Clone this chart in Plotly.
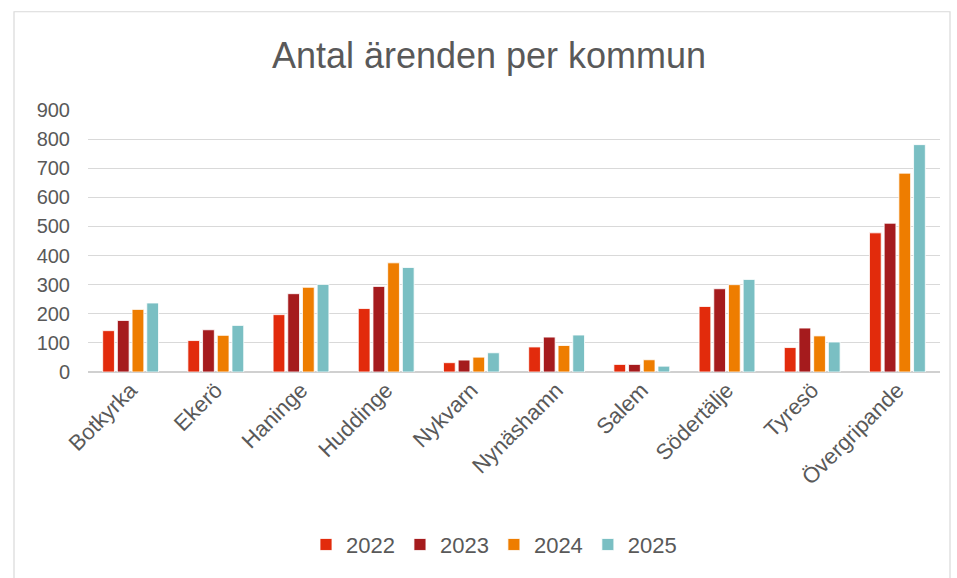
import plotly.graph_objects as go

categories = ["Botkyrka", "Ekerö", "Haninge", "Huddinge", "Nykvarn", "Nynäshamn",
              "Salem", "Södertälje", "Tyresö", "Övergripande"]
v2022 = [142, 108, 197, 218, 32, 86, 26, 225, 84, 478]
v2023 = [177, 145, 269, 294, 41, 120, 26, 286, 151, 511]
v2024 = [215, 126, 291, 375, 51, 91, 42, 300, 124, 683]
v2025 = [237, 160, 301, 359, 66, 127, 20, 318, 103, 781]
series_names = ["2022", "2023", "2024", "2025"]
colors = ["#E22B0C", "#A51B1D", "#EE7D00", "#7ABFC3"]
y_ticks = [0, 100, 200, 300, 400, 500, 600, 700, 800, 900]

FONT = "Liberation Sans"
TXT = "#595959"

fig = go.Figure()
for name, vals, col in zip(series_names, [v2022, v2023, v2024, v2025], colors):
    fig.add_trace(go.Bar(x=categories, y=vals, name=name,
                         marker=dict(color=col, line=dict(color="white", width=0.8))))

W, H = 957, 578
L, R, T, B = 88, 17, 110, 204
pw, ph = W - L - R, H - T - B

def px(x):
    return (x - L) / pw

def py(y):
    return (H - B - y) / ph

fig.update_layout(
    width=W, height=H,
    margin=dict(l=L, r=R, t=T, b=B),
    paper_bgcolor="white", plot_bgcolor="white",
    barmode="group", bargap=0.31, bargroupgap=0.2,
    font=dict(family=FONT, color=TXT, size=20),
    title=dict(text="Antal ärenden per kommun", x=489 / W, xanchor="center",
               y=1 - 55 / H, yanchor="middle",
               font=dict(family=FONT, size=36, color=TXT)),
    xaxis=dict(tickangle=-45, showgrid=False, showline=False, ticks="",
               tickfont=dict(size=22, color=TXT)),
    yaxis=dict(range=[0, 900], tickvals=y_ticks, showgrid=True, gridcolor="#D9D9D9",
               gridwidth=1.3, zeroline=True, zerolinecolor="#D0D0D0", zerolinewidth=1.5,
               showline=False, ticks="", ticklabelstandoff=17,
               tickfont=dict(size=20, color=TXT)),
    legend=dict(orientation="h", x=px(494), xanchor="center", y=py(548), yanchor="middle",
                font=dict(size=22, color=TXT), itemwidth=30, traceorder="normal"),
    shapes=[dict(type="rect", xref="paper", yref="paper",
                 x0=px(14), x1=px(950), y0=py(590), y1=py(11),
                 line=dict(color="#D9D9D9", width=1.2), fillcolor="rgba(0,0,0,0)",
                 layer="below")],
)

fig.write_html("out.html", config={"displayModeBar": False},
               post_script="document.body.style.margin='0';document.body.style.overflow='hidden';")
